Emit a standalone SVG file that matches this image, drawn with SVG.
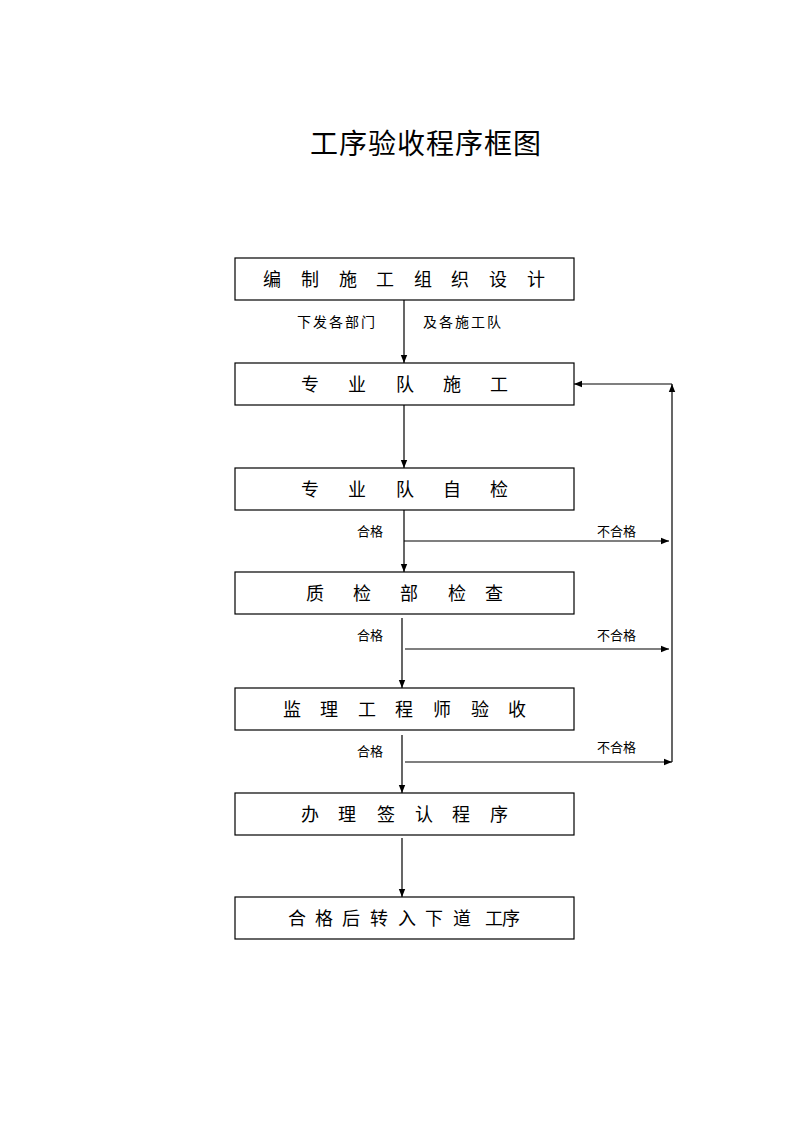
<svg xmlns="http://www.w3.org/2000/svg" width="800" height="1132" viewBox="0 0 800 1132">
<style>
.box{fill:#fff;stroke:#000;stroke-width:1.2}
.t{font-family:"Noto Sans CJK SC",sans-serif;font-size:18px;fill:#000}
.s{font-family:"Noto Sans CJK SC",sans-serif;font-size:13px;fill:#000}
.m{font-family:"Noto Sans CJK SC",sans-serif;font-size:14px;letter-spacing:2px;fill:#000}
.title{font-family:"Noto Sans CJK SC",sans-serif;font-size:28px;fill:#000}
.ln{stroke:#000;stroke-width:1.2;fill:none}
</style>
<defs>
<marker id="ah" viewBox="0 0 10 10" refX="10" refY="5" markerWidth="8" markerHeight="8" markerUnits="userSpaceOnUse" orient="auto">
<path d="M0,1 L10,5 L0,9 Z" fill="#000"/>
</marker>
</defs>
<rect width="800" height="1132" fill="#fff"/>
<text class="title" x="426" y="154" text-anchor="middle" letter-spacing="1">工序验收程序框图</text>

<g id="n1"><rect class="box" x="235" y="258" width="339" height="42"/>
<text class="t" x="263 301 339 376 414 451 489 527" y="286">编制施工组织设计</text></g>
<g id="n2"><rect class="box" x="235" y="363" width="339" height="42"/>
<text class="t" x="301 348 396 443 490" y="391">专业队施工</text></g>
<g id="n3"><rect class="box" x="235" y="468" width="339" height="42"/>
<text class="t" x="301 348 396 443 490" y="496">专业队自检</text></g>
<g id="n4"><rect class="box" x="235" y="572" width="339" height="42"/>
<text class="t" x="306 353 400 448 485" y="600">质检部检查</text></g>
<g id="n5"><rect class="box" x="235" y="688" width="339" height="42"/>
<text class="t" x="283 320 358 395 433 471 508" y="716">监理工程师验收</text></g>
<g id="n6"><rect class="box" x="235" y="793" width="339" height="42"/>
<text class="t" x="301 338 377 415 452 490" y="821">办理签认程序</text></g>
<g id="n7"><rect class="box" x="235" y="897" width="339" height="42"/>
<text class="t" x="288 315 342 370 398 425 453 485 502" y="925">合格后转入下道工序</text></g>

<g id="connectors">
<line class="ln" x1="404" y1="300" x2="404" y2="363" marker-end="url(#ah)"/>
<line class="ln" x1="404" y1="405" x2="404" y2="468" marker-end="url(#ah)"/>
<line class="ln" x1="404" y1="510" x2="404" y2="572" marker-end="url(#ah)"/>
<line class="ln" x1="404" y1="541" x2="669" y2="541" marker-end="url(#ah)"/>
<line class="ln" x1="402" y1="618" x2="402" y2="688" marker-end="url(#ah)"/>
<line class="ln" x1="405" y1="649" x2="669" y2="649" marker-end="url(#ah)"/>
<line class="ln" x1="402" y1="735" x2="402" y2="793" marker-end="url(#ah)"/>
<line class="ln" x1="405" y1="762" x2="672" y2="762" marker-end="url(#ah)"/>
<line class="ln" x1="402" y1="838" x2="402" y2="897" marker-end="url(#ah)"/>
<line class="ln" x1="672" y1="762" x2="672" y2="384" marker-end="url(#ah)"/>
<line class="ln" x1="672" y1="384" x2="574" y2="384" marker-end="url(#ah)"/>
<text class="m" x="297" y="327">下发各部门</text>
<text class="m" x="423" y="327">及各施工队</text>
<text class="s" x="357" y="536">合格</text>
<text class="s" x="597" y="536">不合格</text>
<text class="s" x="357" y="640">合格</text>
<text class="s" x="597" y="640">不合格</text>
<text class="s" x="357" y="756">合格</text>
<text class="s" x="597" y="752">不合格</text>
</g>
</svg>
